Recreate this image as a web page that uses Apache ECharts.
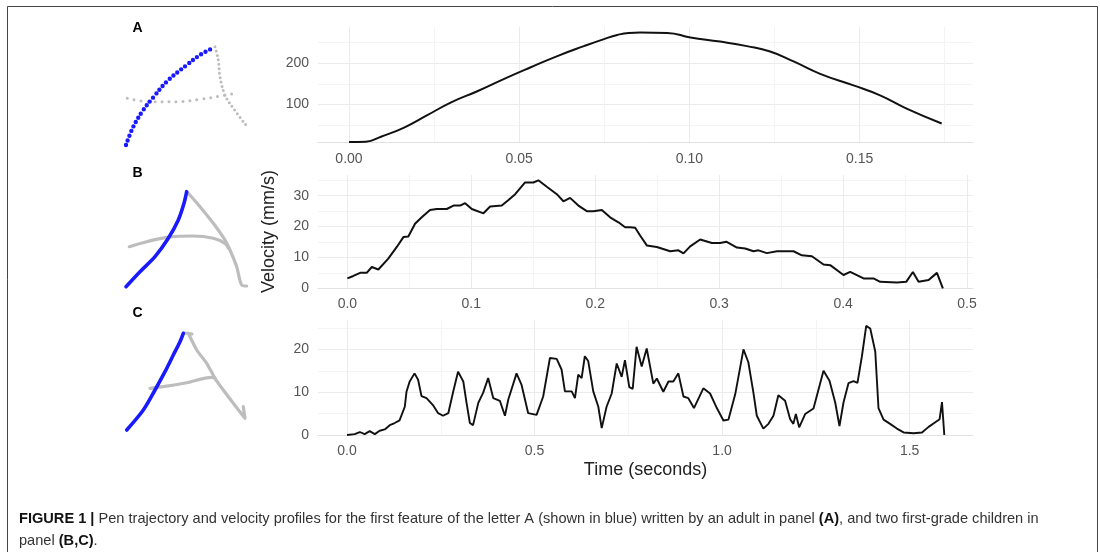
<!DOCTYPE html>
<html>
<head>
<meta charset="utf-8">
<script src="https://cdn.jsdelivr.net/npm/echarts@6/dist/echarts.min.js"></script>
<style>
  html, body { margin: 0; padding: 0; background: #fff; }
  #chart { width: 1100px; height: 552px; }
</style>
</head>
<body>
<div id="chart"></div>
<script>
// panel A: adult, smooth profile
const aTime = [0, 0.005, 0.0094, 0.0162, 0.023, 0.030, 0.0377, 0.0456, 0.0534, 0.0612, 0.069, 0.0749, 0.0788, 0.0822, 0.0856, 0.0935, 0.1003, 0.109, 0.1169, 0.1237, 0.1306, 0.1384, 0.1482, 0.156, 0.1638, 0.1741];
const aVel = [9, 10, 22, 44, 74, 105, 132, 162, 190, 217, 241, 258, 268, 273, 274, 273, 262, 252, 241, 228, 204, 174, 146, 122, 90, 54];

// panel B: first child
const bTime = [0, 0.0048, 0.0103, 0.0156, 0.0197, 0.025, 0.033, 0.0399, 0.0452, 0.0492, 0.0546, 0.06, 0.0667, 0.0721, 0.0802, 0.0856, 0.091, 0.095, 0.1004, 0.1098, 0.1152, 0.1246, 0.13, 0.1354, 0.1434, 0.1501, 0.1541, 0.1609, 0.169, 0.1743, 0.1797, 0.1864, 0.1932, 0.1985, 0.2053, 0.212, 0.2187, 0.2241, 0.2282, 0.2322, 0.2362, 0.2416, 0.2497, 0.2605, 0.2671, 0.2712, 0.2766, 0.2847, 0.2941, 0.3008, 0.3057, 0.3143, 0.321, 0.3277, 0.3317, 0.3385, 0.3466, 0.36, 0.3667, 0.3748, 0.3842, 0.3896, 0.4003, 0.4057, 0.4165, 0.4245, 0.4299, 0.4434, 0.4509, 0.4563, 0.4609, 0.469, 0.4757, 0.4805];
const bVel = [3.2, 4.0, 5.0, 5.0, 6.9, 6.1, 9.6, 13.4, 16.6, 16.8, 20.9, 23, 25.4, 25.7, 25.7, 26.8, 26.8, 27.6, 25.7, 24.3, 26.5, 26.8, 28.6, 30.5, 34.3, 34.3, 35, 32.9, 30.5, 28.2, 29.3, 26.8, 25, 25, 25.4, 23, 21.4, 19.8, 19.8, 19.6, 17.1, 13.9, 13.4, 12, 12.3, 11.3, 13.6, 15.8, 14.7, 14.7, 15.1, 13.2, 12.9, 12, 12.3, 11.4, 12, 12, 10.7, 10.4, 7.7, 7.5, 4.3, 5.3, 3.2, 3.2, 2.1, 1.9, 2.1, 5.3, 2.1, 2.7, 5.0, 0];

// panel C: second child
const cTime = [0, 0.0205, 0.034, 0.047, 0.0605, 0.074, 0.087, 0.1006, 0.114, 0.127, 0.14, 0.154, 0.1585, 0.167, 0.18, 0.1895, 0.1985, 0.212, 0.229, 0.243, 0.256, 0.27, 0.283, 0.296, 0.31, 0.3187, 0.3275, 0.336, 0.35, 0.363, 0.3763, 0.39, 0.4075, 0.421, 0.43, 0.452, 0.4654, 0.483, 0.5054, 0.523, 0.541, 0.559, 0.572, 0.581, 0.599, 0.6077, 0.6165, 0.6255, 0.634, 0.643, 0.6565, 0.67, 0.679, 0.692, 0.7057, 0.719, 0.7323, 0.741, 0.7526, 0.7617, 0.772, 0.7857, 0.799, 0.8167, 0.826, 0.8433, 0.857, 0.87, 0.8834, 0.897, 0.91, 0.925, 0.95, 0.968, 0.986, 1.0035, 1.017, 1.035, 1.057, 1.070, 1.0835, 1.0926, 1.110, 1.1236, 1.137, 1.150, 1.168, 1.1815, 1.190, 1.1967, 1.2055, 1.2215, 1.2437, 1.2704, 1.2864, 1.3016, 1.313, 1.3237, 1.337, 1.3504, 1.361, 1.3728, 1.3843, 1.395, 1.4084, 1.417, 1.4305, 1.448, 1.466, 1.484, 1.5105, 1.533, 1.5506, 1.5685, 1.58, 1.5863, 1.5925];
const cVel = [0, 0.2, 0.7, 0.2, 0.9, 0.2, 1.0, 1.3, 2.3, 2.8, 3.4, 6.6, 10.1, 12.5, 14.4, 12.9, 9.1, 8.6, 7.0, 5.1, 4.5, 5.1, 10.1, 14.8, 12.5, 7.5, 2.8, 2.3, 7.5, 9.9, 13.3, 8.6, 8.0, 4.5, 8.3, 14.4, 11.7, 5.1, 4.7, 9.0, 18, 17.8, 15.3, 10.2, 10.2, 8.6, 14.1, 13.3, 18.4, 17.3, 10.2, 6.6, 1.6, 6.6, 9.7, 16.7, 13.6, 17.5, 11.2, 10.8, 20.6, 16, 20.2, 12, 13.2, 10.1, 12.5, 12.5, 14.4, 9, 8.6, 6.3, 10.9, 9.7, 6.3, 3.4, 3.6, 9.5, 20, 17, 9.9, 4.5, 1.5, 2.6, 4.5, 9.3, 8.0, 3.7, 2.6, 4.9, 1.8, 4.9, 6.2, 15, 12.7, 7.6, 2.1, 7.6, 12.1, 12.6, 12.2, 18.4, 25.5, 24.9, 19.5, 6.3, 3.6, 2.6, 1.5, 0.6, 0.4, 0.6, 1.9, 3.0, 3.7, 7.7, 0];

// tick values
const aXTicks = [0, 0.05, 0.10, 0.15];
const aXMinor = [0.025, 0.075, 0.125, 0.175];
const aYTicks = [100, 200];
const aYMinor = [50, 150, 250];
const bXTicks = [0, 0.1, 0.2, 0.3, 0.4, 0.5];
const bXMinor = [0.05, 0.15, 0.25, 0.35, 0.45];
const bYTicks = [0, 10, 20, 30];
const bYMinor = [5, 15, 25, 35];
const cXTicks = [0, 0.5, 1.0, 1.5];
const cXMinor = [0.25, 0.75, 1.25];
const cYTicks = [0, 10, 20];
const cYMinor = [5, 15, 25];

// pen trajectories (local units, y up)
const trajABlue = [[16, 5], [23.3, 23.3], [33.3, 40], [43.3, 52.7], [56.7, 68.3], [76.7, 85], [90, 95], [102.3, 101.7]];
const trajALeg = [[105, 103.3], [108.3, 90], [110, 73.3], [115, 55], [123.3, 41.7], [136, 25]];
const trajABar = [[17.3, 51.7], [40, 48.3], [66.7, 48.3], [90, 50.7], [110, 54], [125, 56.7]];
const trajBBlue = [[16, 3.3], [30, 18.3], [45, 33.3], [58.3, 51.7], [68.3, 70], [74, 86.7], [76.7, 98.3]];
const trajBLeg = [[78.3, 96.7], [90, 83.3], [103.3, 66.7], [115, 50], [120, 40], [126.7, 23.3], [131.7, 5], [136.7, 4]];
const trajBBar = [[19.3, 43.3], [36.7, 48.3], [56.7, 52.7], [83.3, 54], [103.3, 51.7], [115, 46.7], [118.3, 41.7]];
const trajCBlue = [[16.7, 5], [33.3, 25], [45, 45], [55, 63.3], [63.3, 80], [70, 93.3], [73.3, 101.7]];
const trajCLeg = [[75, 102], [82, 101], [78.3, 101.7], [86.7, 85], [96.7, 71.7], [105, 56.7], [113.3, 45], [123.3, 31.7], [135, 16.7], [133.3, 28.3]];
const trajCBar = [[40, 46.7], [53.3, 48.3], [76.7, 52.3], [101.7, 57.7], [105, 57]];

const zip = (xs, ys) => xs.map((x, i) => [x, ys[i]]);
const FONT = '"Liberation Sans", Arial, Helvetica, sans-serif';
const LABEL = { color: '#555', fontSize: 14, fontFamily: FONT };

function mainX(grid, min, max, ticks, digits, extra) {
  return Object.assign({
    type: 'value', gridIndex: grid, min: min, max: max, position: 'bottom',
    axisLine: { show: true, onZero: false, lineStyle: { color: '#e2e2e2', width: 1 } },
    axisTick: { show: false, customValues: ticks },
    axisLabel: Object.assign({ customValues: ticks, margin: 9, formatter: v => v.toFixed(digits) }, LABEL),
    splitLine: { show: true, lineStyle: { color: '#ebebeb', width: 1 } }
  }, extra || {});
}
function mainY(grid, min, max, ticks, extra) {
  return Object.assign({
    type: 'value', gridIndex: grid, min: min, max: max,
    axisLine: { show: false },
    axisTick: { show: false, customValues: ticks },
    axisLabel: Object.assign({ customValues: ticks, margin: 9 }, LABEL),
    splitLine: { show: true, lineStyle: { color: '#ebebeb', width: 1 } }
  }, extra || {});
}
function minorAxis(grid, min, max, ticks, pos) {
  return {
    type: 'value', gridIndex: grid, min: min, max: max, position: pos,
    axisLine: { show: false }, axisLabel: { show: false },
    axisTick: { show: false, customValues: ticks },
    splitLine: { show: true, lineStyle: { color: '#f4f4f4', width: 1 } }
  };
}
function hiddenAxis(grid, max) {
  return { type: 'value', gridIndex: grid, min: 0, max: max, show: false };
}

const titleStyle = { color: '#222', fontSize: 18, fontFamily: FONT };
const CAP_FONT = '14.6px ' + FONT;
const capBold = { fontWeight: 'bold', fill: '#111', fontSize: 14.6, fontFamily: FONT };

const chart = echarts.init(document.getElementById('chart'));
chart.setOption({
  animation: false,
  grid: [
    { left: 318, top: 26.7, width: 655, height: 116 },
    { left: 318, top: 174.9, width: 655, height: 113.4 },
    { left: 318, top: 320.3, width: 655, height: 114.7 },
    { left: 110, top: 30, width: 150, height: 120 },
    { left: 110, top: 170, width: 150, height: 120 },
    { left: 110, top: 315, width: 150, height: 120 }
  ],
  xAxis: [
    minorAxis(0, -0.0091, 0.1833, aXMinor, 'top'),
    mainX(0, -0.0091, 0.1833, aXTicks, 2),
    minorAxis(1, -0.0237, 0.5048, bXMinor, 'top'),
    mainX(1, -0.0237, 0.5048, bXTicks, 1),
    minorAxis(2, -0.0774, 1.669, cXMinor, 'top'),
    mainX(2, -0.0774, 1.669, cXTicks, 1, {
      name: 'Time (seconds)', nameLocation: 'middle', nameGap: 26, nameTextStyle: titleStyle
    }),
    hiddenAxis(3, 150), hiddenAxis(4, 150), hiddenAxis(5, 150)
  ],
  yAxis: [
    minorAxis(0, 7.5, 288, aYMinor, 'right'),
    mainY(0, 7.5, 288, aYTicks),
    minorAxis(1, 0, 36.75, bYMinor, 'right'),
    mainY(1, 0, 36.75, bYTicks, {
      name: 'Velocity (mm/s)', nameLocation: 'middle', nameGap: 40, nameTextStyle: titleStyle
    }),
    minorAxis(2, 0, 26.8, cYMinor, 'right'),
    mainY(2, 0, 26.8, cYTicks),
    hiddenAxis(3, 120), hiddenAxis(4, 120), hiddenAxis(5, 120)
  ],
  series: [
    { type: 'line', xAxisIndex: 1, yAxisIndex: 1, data: zip(aTime, aVel), smooth: true, showSymbol: false,
      lineStyle: { color: '#111', width: 2 } },
    { type: 'line', xAxisIndex: 3, yAxisIndex: 3, data: zip(bTime, bVel), showSymbol: false,
      lineStyle: { color: '#111', width: 2 } },
    { type: 'line', xAxisIndex: 5, yAxisIndex: 5, data: zip(cTime, cVel), showSymbol: false,
      lineStyle: { color: '#111', width: 1.9 } },

    // letter A (dotted pen samples)
    { type: 'line', xAxisIndex: 6, yAxisIndex: 6, data: trajALeg, smooth: 0.4, showSymbol: false,
      lineStyle: { color: '#bdbdbd', width: 3, type: [0, 4.5], cap: 'round' } },
    { type: 'line', xAxisIndex: 6, yAxisIndex: 6, data: trajABar, smooth: 0.4, showSymbol: false,
      lineStyle: { color: '#bdbdbd', width: 3, type: [0, 7], cap: 'round' } },
    { type: 'line', xAxisIndex: 6, yAxisIndex: 6, data: trajABlue, smooth: 0.4, showSymbol: false,
      lineStyle: { color: '#1a1aff', width: 4.4, type: [0, 5], cap: 'round' } },

    // letter B
    { type: 'line', xAxisIndex: 7, yAxisIndex: 7, data: trajBLeg, smooth: 0.3, showSymbol: false,
      lineStyle: { color: '#bdbdbd', width: 3.2, cap: 'round', join: 'round' } },
    { type: 'line', xAxisIndex: 7, yAxisIndex: 7, data: trajBBar, smooth: 0.4, showSymbol: false,
      lineStyle: { color: '#bdbdbd', width: 3.2, cap: 'round', join: 'round' } },
    { type: 'line', xAxisIndex: 7, yAxisIndex: 7, data: trajBBlue, smooth: 0.3, showSymbol: false,
      lineStyle: { color: '#1a1aff', width: 3.6, cap: 'round', join: 'round' } },

    // letter C
    { type: 'line', xAxisIndex: 8, yAxisIndex: 8, data: trajCLeg, smooth: 0.2, showSymbol: false,
      lineStyle: { color: '#bdbdbd', width: 3.2, cap: 'round', join: 'round' } },
    { type: 'line', xAxisIndex: 8, yAxisIndex: 8, data: trajCBar, smooth: 0.3, showSymbol: false,
      lineStyle: { color: '#bdbdbd', width: 3.2, cap: 'round', join: 'round' } },
    { type: 'line', xAxisIndex: 8, yAxisIndex: 8, data: trajCBlue, smooth: 0.3, showSymbol: false,
      lineStyle: { color: '#1a1aff', width: 3.6, cap: 'round', join: 'round' } }
  ],
  graphic: [
    { type: 'rect', shape: { x: 7.5, y: 6.5, width: 1090, height: 600 },
      style: { fill: 'none', stroke: '#444', lineWidth: 1 }, silent: true },
    { type: 'text', x: 137.5, y: 28, style: { text: 'A', font: 'bold 14px ' + FONT, fill: '#000', align: 'center', verticalAlign: 'middle' } },
    { type: 'text', x: 137.5, y: 173, style: { text: 'B', font: 'bold 14px ' + FONT, fill: '#000', align: 'center', verticalAlign: 'middle' } },
    { type: 'text', x: 137.5, y: 313, style: { text: 'C', font: 'bold 14px ' + FONT, fill: '#000', align: 'center', verticalAlign: 'middle' } },
    { type: 'text', x: 19, y: 519, style: {
        text: '{b|FIGURE 1 |} Pen trajectory and velocity profiles for the first feature of the letter A (shown in blue) written by an adult in panel {b|(A)}, and two first-grade children in',
        font: CAP_FONT, fill: '#333', verticalAlign: 'middle', rich: { b: capBold } } },
    { type: 'text', x: 19, y: 541, style: {
        text: 'panel {b|(B,C)}.',
        font: CAP_FONT, fill: '#333', verticalAlign: 'middle', rich: { b: capBold } } }
  ]
});
</script>
</body>
</html>
